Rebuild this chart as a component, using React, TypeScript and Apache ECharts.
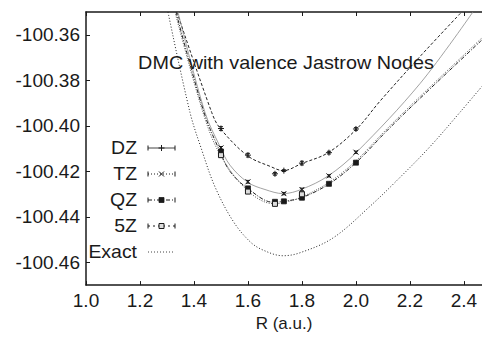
import React, { useEffect, useRef } from "react";
import * as echarts from "echarts";

// Axis ticks
const xTicks = [1.0, 1.2, 1.4, 1.6, 1.8, 2.0, 2.2, 2.4];
const yTicks = [-100.36, -100.38, -100.4, -100.42, -100.44, -100.46];

// Fitted curves [R, E]
const exactCurve = [
  [1.3037, -100.35], [1.3852, -100.3941], [1.4285, -100.4105], [1.4778, -100.4268],
  [1.5444, -100.4418], [1.6074, -100.4509], [1.6556, -100.4546], [1.7296, -100.4571],
  [1.7926, -100.4558], [1.9148, -100.4493], [2.0519, -100.4354], [2.163, -100.4227],
  [2.2741, -100.4092], [2.3852, -100.3941], [2.4667, -100.3827],
];
const dzCurve = [
  [1.337, -100.35], [1.4656, -100.3941], [1.4963, -100.401], [1.5989, -100.4132],
  [1.6815, -100.4178], [1.7307, -100.4197], [1.7989, -100.4166], [1.8974, -100.4118],
  [2.0026, -100.4014], [2.0889, -100.3892], [2.237, -100.3696], [2.3915, -100.35],
];
const tzCurve = [
  [1.3407, -100.35], [1.4407, -100.3941], [1.4963, -100.4091], [1.5333, -100.4173],
  [1.5989, -100.4248], [1.663, -100.428], [1.7307, -100.4298], [1.7989, -100.4279],
  [1.8974, -100.422], [2.0026, -100.4116], [2.237, -100.3815], [2.4333, -100.35],
];
const qzCurve = [
  [1.3333, -100.35], [1.437, -100.3941], [1.4963, -100.4113], [1.5333, -100.42],
  [1.5989, -100.4275], [1.6937, -100.4336], [1.7307, -100.4332], [1.7989, -100.4316],
  [1.9011, -100.4255], [2.0, -100.4162], [2.1137, -100.4023], [2.237, -100.388],
  [2.4667, -100.3623],
];
const z5Curve = [
  [1.3296, -100.35], [1.4333, -100.3941], [1.4963, -100.4125], [1.5989, -100.4285],
  [1.6937, -100.4342], [1.7307, -100.4338], [1.7989, -100.4313], [1.9011, -100.4248],
  [2.0, -100.4154], [2.1137, -100.4015], [2.237, -100.3872], [2.4667, -100.3614],
];

// DMC points with error bars
const dzR = [1.5, 1.6, 1.7, 1.733, 1.8, 1.9, 2.0];
const dzE = [-100.4012, -100.4129, -100.4211, -100.4197, -100.4164, -100.4118, -100.4014];
const dzErr = [0.0008, 0.0008, 0.0006, 0.0004, 0.0008, 0.0006, 0.0006];

const tzR = [1.5, 1.6, 1.733, 1.8, 1.9, 2.0];
const tzE = [-100.4097, -100.4246, -100.4298, -100.428, -100.422, -100.4116];
const tzErr = [0.0006, 0.0006, 0.0005, 0.0006, 0.0005, 0.0005];

const qzR = [1.5, 1.6, 1.7, 1.733, 1.8, 1.9, 2.0];
const qzE = [-100.4113, -100.4275, -100.4334, -100.4332, -100.4316, -100.4255, -100.4162];
const qzErr = [0.0006, 0.0006, 0.0006, 0.0005, 0.0006, 0.0005, 0.0005];

const z5R = [1.5, 1.6, 1.7, 1.8];
const z5E = [-100.4129, -100.4289, -100.4343, -100.4301];
const z5Err = [0.0008, 0.0008, 0.0007, 0.0009];

const legendNames = ["DZ", "TZ", "QZ", "5Z", "Exact"];

const INK = "#1a1a1a";
const FONT = "Liberation Sans, Arial, sans-serif";

type Marker = "plus" | "cross" | "fsquare" | "osquare";

function markerShapes(m: Marker, cx: number, cy: number) {
  const s = { stroke: INK, lineWidth: 1 };
  if (m === "plus")
    return [
      { type: "line", shape: { x1: cx - 3, y1: cy, x2: cx + 3, y2: cy }, style: s },
      { type: "line", shape: { x1: cx, y1: cy - 3, x2: cx, y2: cy + 3 }, style: s },
    ];
  if (m === "cross")
    return [
      { type: "line", shape: { x1: cx - 2.5, y1: cy - 2.5, x2: cx + 2.5, y2: cy + 2.5 }, style: s },
      { type: "line", shape: { x1: cx - 2.5, y1: cy + 2.5, x2: cx + 2.5, y2: cy - 2.5 }, style: s },
    ];
  if (m === "fsquare")
    return [{ type: "rect", shape: { x: cx - 2.5, y: cy - 2.5, width: 5, height: 5 }, style: { fill: INK, stroke: INK, lineWidth: 0.8 } }];
  return [{ type: "rect", shape: { x: cx - 2.5, y: cy - 2.5, width: 5, height: 5 }, style: { fill: "#ddd", stroke: INK, lineWidth: 1 } }];
}

function pointSeries(name: string, xs: number[], ys: number[], errs: number[], m: Marker) {
  return {
    type: "custom",
    name,
    coordinateSystem: "cartesian2d",
    encode: { x: 0, y: 1 },
    data: xs.map((x, i) => [x, ys[i], errs[i]]),
    z: 5,
    renderItem: (_p: any, api: any) => {
      const x = api.value(0);
      const y = api.value(1);
      const e = api.value(2);
      const p = api.coord([x, y]);
      const hi = api.coord([x, y + e]);
      const lo = api.coord([x, y - e]);
      const s = { stroke: INK, lineWidth: 1 };
      return {
        type: "group",
        children: [
          { type: "line", shape: { x1: p[0], y1: hi[1], x2: p[0], y2: lo[1] }, style: s },
          { type: "line", shape: { x1: p[0] - 2, y1: hi[1], x2: p[0] + 2, y2: hi[1] }, style: s },
          { type: "line", shape: { x1: p[0] - 2, y1: lo[1], x2: p[0] + 2, y2: lo[1] }, style: s },
          ...markerShapes(m, p[0], p[1]),
        ],
      };
    },
  };
}

function curveSeries(name: string, data: number[][], color: string, dash: any, width = 1) {
  return {
    type: "line",
    name,
    data,
    smooth: 0.35,
    showSymbol: false,
    symbol: "none",
    clip: true,
    lineStyle: { color, width, type: dash },
    z: 3,
  };
}

function legendGraphic() {
  const els: any[] = [];
  const styles: { dash: any; color: string; marker: Marker | null; caps: boolean }[] = [
    { dash: null, color: "#444", marker: "plus", caps: true },
    { dash: [1, 2], color: INK, marker: "cross", caps: true },
    { dash: [4, 2, 1, 2], color: INK, marker: "fsquare", caps: true },
    { dash: [2, 3], color: INK, marker: "osquare", caps: true },
    { dash: [1, 2], color: "#444", marker: null, caps: false },
  ];
  legendNames.forEach((n, i) => {
    const y = 148 + i * 26;
    els.push({
      type: "text",
      x: 137,
      y,
      scaleX: 1.08,
      style: { text: n, fontSize: 18, fontFamily: FONT, fill: INK, align: "right", verticalAlign: "middle" },
    });
    const st = styles[i];
    els.push({
      type: "line",
      shape: { x1: 148, y1: y, x2: 175, y2: y },
      style: { stroke: st.color, lineWidth: 1, lineDash: st.dash || undefined },
    });
    if (st.caps) {
      els.push({ type: "line", shape: { x1: 148, y1: y - 2.5, x2: 148, y2: y + 2.5 }, style: { stroke: INK, lineWidth: 1 } });
      els.push({ type: "line", shape: { x1: 175, y1: y - 2.5, x2: 175, y2: y + 2.5 }, style: { stroke: INK, lineWidth: 1 } });
    }
    if (st.marker) {
      markerShapes(st.marker, 161.5, y).forEach((m) => els.push(m));
    }
  });
  return els;
}

export default function App() {
  const ref = useRef<HTMLDivElement>(null);
  useEffect(() => {
    if (!ref.current) return;
    const chart = echarts.init(ref.current, undefined, { renderer: "svg" });
    const axisLine = { show: true, onZero: false, lineStyle: { color: INK, width: 1.5 } };
    const labelStyle = { fontSize: 19, fontFamily: FONT, color: INK };
    chart.setOption({
      animation: false,
      backgroundColor: "#fff",
      grid: { left: 86, right: 0, top: 12, bottom: 31, containLabel: false },
      xAxis: [
        {
          type: "value",
          min: 1.0,
          max: 2.467,
          position: "bottom",
          axisLine,
          axisTick: { show: true, inside: true, length: 4, customValues: xTicks, lineStyle: { color: INK, width: 1 } },
          axisLabel: { ...labelStyle, margin: 6, customValues: xTicks, formatter: (v: number) => v.toFixed(1) },
          splitLine: { show: false },
          name: "R (a.u.)",
          nameLocation: "middle",
          nameGap: 18,
          nameTextStyle: { fontSize: 17, fontFamily: FONT, color: INK },
        },
        {
          type: "value",
          min: 1.0,
          max: 2.467,
          position: "top",
          axisLine,
          axisTick: { show: true, inside: true, length: 4, customValues: xTicks, lineStyle: { color: INK, width: 1 } },
          axisLabel: { show: false },
          splitLine: { show: false },
        },
      ],
      yAxis: {
        type: "value",
        min: -100.47,
        max: -100.35,
        axisLine,
        axisTick: { show: true, inside: true, length: 4, customValues: yTicks, lineStyle: { color: INK, width: 1 } },
        axisLabel: { ...labelStyle, margin: 6, customValues: yTicks, formatter: (v: number) => v.toFixed(2) },
        splitLine: { show: false },
      },
      graphic: [
        {
          type: "text",
          x: 286,
          y: 63,
          scaleX: 1.1,
          style: {
            text: "DMC with valence Jastrow Nodes",
            fontSize: 18,
            fontFamily: FONT,
            fill: INK,
            align: "center",
            verticalAlign: "middle",
          },
          z: 10,
        },
        ...legendGraphic(),
      ],
      series: [
        curveSeries("Exact", exactCurve, "#222", [1, 2]),
        curveSeries("DZ fit", dzCurve, "#222", [3, 2]),
        curveSeries("TZ fit", tzCurve, "#8a8a8a", "solid", 0.8),
        curveSeries("QZ fit", qzCurve, "#222", [4, 1.5, 1, 1.5]),
        curveSeries("5Z fit", z5Curve, "#555", [1, 1.5]),
        pointSeries("DZ", dzR, dzE, dzErr, "plus"),
        pointSeries("TZ", tzR, tzE, tzErr, "cross"),
        pointSeries("QZ", qzR, qzE, qzErr, "fsquare"),
        pointSeries("5Z", z5R, z5E, z5Err, "osquare"),
      ],
    });
    return () => chart.dispose();
  }, []);
  return (
    <div
      ref={ref}
      style={{ position: "fixed", left: 0, top: 0, width: 482, height: 337, background: "#fff" }}
    />
  );
}
